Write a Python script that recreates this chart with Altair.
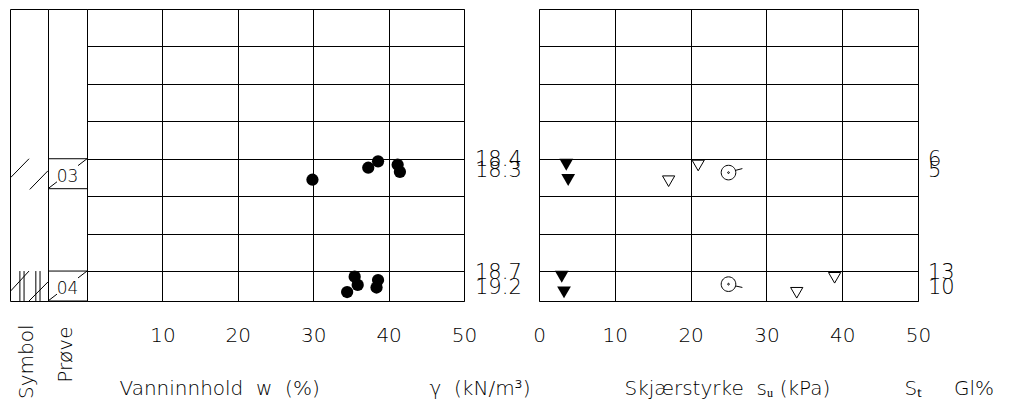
import altair as alt
import pandas as pd

FONT = "DejaVu Sans"
TXT = "#000000"
FW = 200
DEPTH_MAX = 7.8
H = 292

# ---- data ----
w_vals = [29.9, 37.3, 38.6, 41.2, 41.5, 35.5, 35.9, 34.5, 38.6, 38.4]
w_depth = [4.56, 4.24, 4.07, 4.16, 4.35, 7.15, 7.37, 7.56, 7.24, 7.44]

su_fill_vals = [3.6, 3.85, 3.0, 3.3]
su_fill_depth = [4.16, 4.57, 7.15, 7.57]
su_open_vals = [21.0, 17.1, 39.0, 34.0]
su_open_depth = [4.18, 4.60, 7.18, 7.58]
su_cone_vals = [25.0, 25.0]
su_cone_depth = [4.37, 7.35]
su_cone_kind = ["up", "down"]

gamma_labels = ["18.4", "18.3", "18.7", "19.2"]
gamma_depth = [4.03, 4.33, 7.05, 7.45]
st_labels = ["6", "5", "13", "10"]
st_depth = [4.03, 4.33, 7.05, 7.45]

samples = ["03", "04"]
sample_top = [4.0, 7.0]
sample_bottom = [4.8, 7.8]

# soil symbol strokes (x as fraction of column, depth in m)
sym_x = [0.02, 0.52, 0.02, 0.50, 0.26, 0.37, 0.68, 0.79]
sym_d = [4.50, 4.82, 7.53, 7.80, 7.00, 7.00, 7.00, 7.00]
sym_x2 = [0.50, 1.00, 0.50, 1.00, 0.26, 0.37, 0.68, 0.79]
sym_d2 = [4.00, 4.32, 7.00, 7.29, 7.80, 7.80, 7.80, 7.80]

grid_depths = [1, 2, 3, 4, 5, 6, 7]
w_ticks = [10, 20, 30, 40, 50]
su_ticks = [0, 10, 20, 30, 40, 50]

# ---- frames ----
water_df = pd.DataFrame({"w": w_vals, "d": w_depth})
fill_df = pd.DataFrame({"su": su_fill_vals, "d": su_fill_depth})
open_df = pd.DataFrame({"su": su_open_vals, "d": su_open_depth})
cone_df = pd.DataFrame({"su": su_cone_vals, "d": su_cone_depth, "kind": su_cone_kind})
gamma_df = pd.DataFrame({"t": gamma_labels, "d": gamma_depth})
st_df = pd.DataFrame({"t": st_labels, "d": st_depth})
sym_df = pd.DataFrame({"x": sym_x, "d": sym_d, "x2": sym_x2, "d2": sym_d2})

bounds_rows = []
diag_rows = []
label_rows = []
for s, t, b in zip(samples, sample_top, sample_bottom):
    bounds_rows += [{"d": t}, {"d": b}]
    h = b - t
    diag_rows.append({"x": 0.0, "d": b, "x2": 0.23, "d2": b - 0.23 * h})
    diag_rows.append({"x": 0.77, "d": b - 0.77 * h, "x2": 1.0, "d2": t})
    label_rows.append({"t": s, "d": (t + b) / 2})
bounds_df = pd.DataFrame(bounds_rows)
diag_df = pd.DataFrame(diag_rows)
plabel_df = pd.DataFrame(label_rows)


def ysc():
    return alt.Scale(domain=[0, DEPTH_MAX], reverse=True, nice=False, zero=False)


unit = alt.Scale(domain=[0, 1], nice=False, zero=False)


def title_axis(title, tx, ty, angle=0, align="left"):
    return alt.Axis(title=title, labels=False, ticks=False, domain=False, grid=False,
                    titleAngle=angle, titleAlign=align, titleBaseline="alphabetic",
                    titleX=tx, titleY=ty, titleFontSize=20, titleFont=FONT,
                    titleFontWeight=FW, titleColor=TXT)


# Symbol column
p1 = alt.Chart(sym_df).mark_rule(color="black", strokeWidth=1).encode(
    x=alt.X("x:Q", scale=unit, axis=title_axis("Symbol", 22, 23, angle=270, align="right")),
    x2="x2:Q",
    y=alt.Y("d:Q", scale=ysc(), axis=None),
    y2="d2:Q",
).properties(width=38, height=H)

# Prøve column
p2_bounds = alt.Chart(bounds_df).mark_rule(color="black", strokeWidth=1).encode(
    y=alt.Y("d:Q", scale=ysc(), axis=None)
)
p2_diag = alt.Chart(diag_df).mark_rule(color="black", strokeWidth=1).encode(
    x=alt.X("x:Q", scale=unit, axis=title_axis("Prøve", 23, 25, angle=270, align="right")),
    x2="x2:Q",
    y=alt.Y("d:Q", scale=ysc(), axis=None),
    y2="d2:Q",
)
p2_text = alt.Chart(plabel_df).mark_text(font=FONT, fontSize=17, fontWeight=FW, color=TXT,
                                         dy=3).encode(
    x=alt.value(19.5),
    y=alt.Y("d:Q", scale=ysc(), axis=None),
    text="t:N",
)
p2 = alt.layer(p2_bounds, p2_diag, p2_text).properties(width=39, height=H)

# Water content
p3 = alt.Chart(water_df).mark_circle(size=150, color="black", opacity=1).encode(
    x=alt.X("w:Q", scale=alt.Scale(domain=[0, 50], nice=False, zero=False),
            axis=alt.Axis(values=w_ticks, grid=True, ticks=False, domain=False,
                          labelPadding=24, labelFontSize=20, labelFlush=False,
                          labelOverlap=False, title="Vanninnhold\u00a0\u00a0w\u00a0\u00a0(%)",
                          titleX=32, titleY=93, titleAlign="left", titleBaseline="alphabetic",
                          titleFontSize=20)),
    y=alt.Y("d:Q", scale=ysc(),
            axis=alt.Axis(values=grid_depths, grid=True, labels=False, ticks=False,
                          domain=False, title=None)),
).properties(width=377, height=H)

# gamma labels
p4 = alt.Chart(gamma_df).mark_text(font=FONT, fontSize=21, fontWeight=FW, color=TXT,
                                   align="left", baseline="middle", dx=11).encode(
    x=alt.XDatum(0, type="quantitative", scale=unit,
                 axis=title_axis("\u03b3\u00a0\u00a0(kN/m\u00b3)", -35, 93)),
    y=alt.Y("d:Q", scale=ysc(), axis=None),
    text="t:N",
).properties(width=75, height=H, view=alt.ViewBackground(stroke="transparent"))

# Shear strength
su_x = alt.X("su:Q", scale=alt.Scale(domain=[0, 50], nice=False, zero=False),
             axis=alt.Axis(values=su_ticks, grid=True, ticks=False, domain=False,
                           labelPadding=24, labelFontSize=20, labelFlush=False,
                           labelOverlap=False,
                           title="Skj\u00e6rstyrke\u00a0\u00a0s\u1d64\u00a0(kPa)",
                           titleX=85, titleY=93, titleAlign="left",
                           titleBaseline="alphabetic", titleFontSize=20))
su_y = alt.Y("d:Q", scale=ysc(),
             axis=alt.Axis(values=grid_depths, grid=True, labels=False, ticks=False,
                           domain=False, title=None))

cone_up = "M1,0A1,1,0,1,1,-1,0A1,1,0,1,1,1,0Z M0.12,0A0.12,0.12,0,1,1,-0.12,0A0.12,0.12,0,1,1,0.12,0Z M0.95,-0.3L1.9,-0.55"
cone_down = "M1,0A1,1,0,1,1,-1,0A1,1,0,1,1,1,0Z M0.12,0A0.12,0.12,0,1,1,-0.12,0A0.12,0.12,0,1,1,0.12,0Z M0.97,0.25L1.9,0.45"

s_fill = alt.Chart(fill_df).mark_point(shape="triangle-down", filled=True, size=190,
                                       color="black", opacity=1).encode(x=su_x, y=su_y)
s_open = alt.Chart(open_df).mark_point(shape="triangle-down", filled=False, size=150,
                                       color="black", strokeWidth=1, opacity=1).encode(
    x="su:Q", y="d:Q")
s_cone = alt.Chart(cone_df).mark_point(filled=False, size=213, color="black",
                                       strokeWidth=1, opacity=1).encode(
    x="su:Q", y="d:Q",
    shape=alt.Shape("kind:N", scale=alt.Scale(domain=["up", "down"], range=[cone_up, cone_down]),
                    legend=None),
)
p5 = alt.layer(s_fill, s_open, s_cone).properties(width=379, height=H)

# St labels
p6 = alt.Chart(st_df).mark_text(font=FONT, fontSize=21, fontWeight=FW, color=TXT,
                                align="left", baseline="middle", dx=10).encode(
    x=alt.XDatum(0, type="quantitative", scale=unit,
                 axis=title_axis("S\u209c\u00a0\u00a0\u00a0\u00a0\u00a0Gl%", -14, 93)),
    y=alt.Y("d:Q", scale=ysc(), axis=None),
    text="t:N",
).properties(width=80, height=H, view=alt.ViewBackground(stroke="transparent"))

chart = alt.hconcat(p1, p2, p3, p4, p5, p6, spacing=0, bounds="flush").resolve_scale(
    x="independent", y="independent"
).properties(
    padding={"left": 1, "top": 0, "right": 0, "bottom": 0}
).configure_view(
    stroke="black", strokeWidth=1
).configure_axis(
    labelFont=FONT, titleFont=FONT, labelColor=TXT, titleColor=TXT,
    labelFontWeight=FW, titleFontWeight=FW,
    gridColor="black", gridWidth=1, gridOpacity=1,
)

chart.save("out.html", embed_options={"renderer": "svg", "actions": False})
